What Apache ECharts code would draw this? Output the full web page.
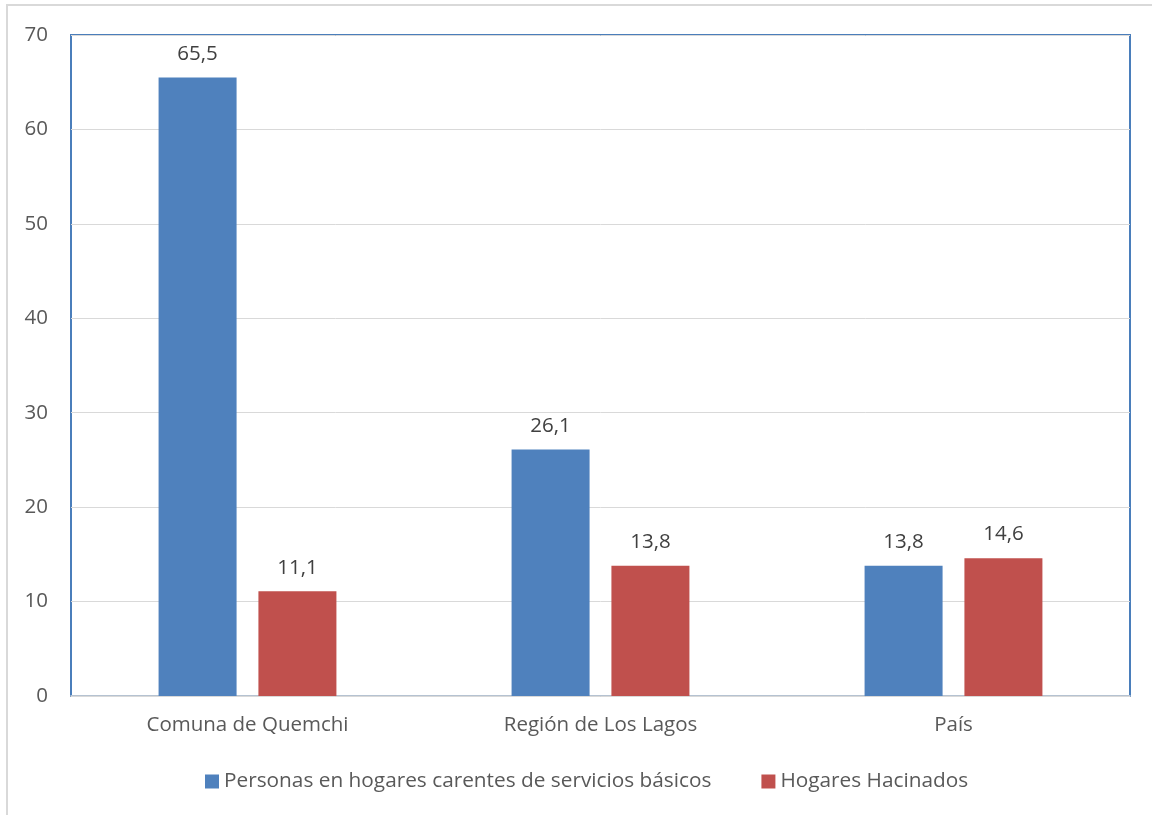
<!DOCTYPE html>
<html><head><meta charset="utf-8">
<script src="https://cdn.jsdelivr.net/npm/echarts@6/dist/echarts.min.js"></script>
<style>html,body{margin:0;padding:0;background:#fff}#c{width:1152px;height:815px}</style>
</head><body><div id="c"></div>
<script>
const categories = ['Comuna de Quemchi', 'Región de Los Lagos', 'País'];
const personas = [65.5, 26.1, 13.8];
const hacinados = [11.1, 13.8, 14.6];
const seriesNames = ['Personas en hogares carentes de servicios básicos', 'Hogares Hacinados'];

const chart = echarts.init(document.getElementById('c'));
const font = '"Open Sans", "Liberation Sans", sans-serif';
const fs = 20.5;
const fmt = p => String(p.value).replace('.', ',');
chart.setOption({
  animation: false,
  textStyle: { fontFamily: font },
  graphic: [{ type: 'rect', shape: { x: 7, y: 5, width: 1160, height: 830 }, style: { fill: 'none', stroke: '#d9d9d9', lineWidth: 2 }, z: -10 }],
  grid: { left: 71, right: 22, top: 35, bottom: 119, show: true, borderColor: '#4a7ebb', borderWidth: 2, backgroundColor: 'transparent' },
  legend: {
    top: 766, left: 200, itemWidth: 14, itemHeight: 14, itemGap: 50, icon: 'rect',
    textStyle: { fontFamily: font, fontSize: 20.8, color: '#595959' },
    data: seriesNames
  },
  xAxis: {
    type: 'category', data: categories,
    axisLine: { show: true, lineStyle: { color: '#d9d9d9', width: 1.5 } },
    axisTick: { show: false },
    axisLabel: { fontFamily: font, fontSize: fs, color: '#595959', margin: 19 }
  },
  yAxis: {
    type: 'value', min: 0, max: 70, interval: 10,
    axisLine: { show: false }, axisTick: { show: false },
    splitLine: { lineStyle: { color: '#d9d9d9', width: 1 } },
    axisLabel: { fontFamily: font, fontSize: fs, color: '#595959', margin: 23 }
  },
  series: [
    { name: seriesNames[0], type: 'bar', data: personas, barWidth: 78, barGap: '28%',
      itemStyle: { color: '#4f81bd' },
      label: { show: true, position: 'top', distance: 13, formatter: fmt, fontFamily: font, fontSize: fs, color: '#404040' } },
    { name: seriesNames[1], type: 'bar', data: hacinados, barWidth: 78,
      itemStyle: { color: '#c0504d' },
      label: { show: true, position: 'top', distance: 13, formatter: fmt, fontFamily: font, fontSize: fs, color: '#404040' } }
  ]
});
</script></body></html>
